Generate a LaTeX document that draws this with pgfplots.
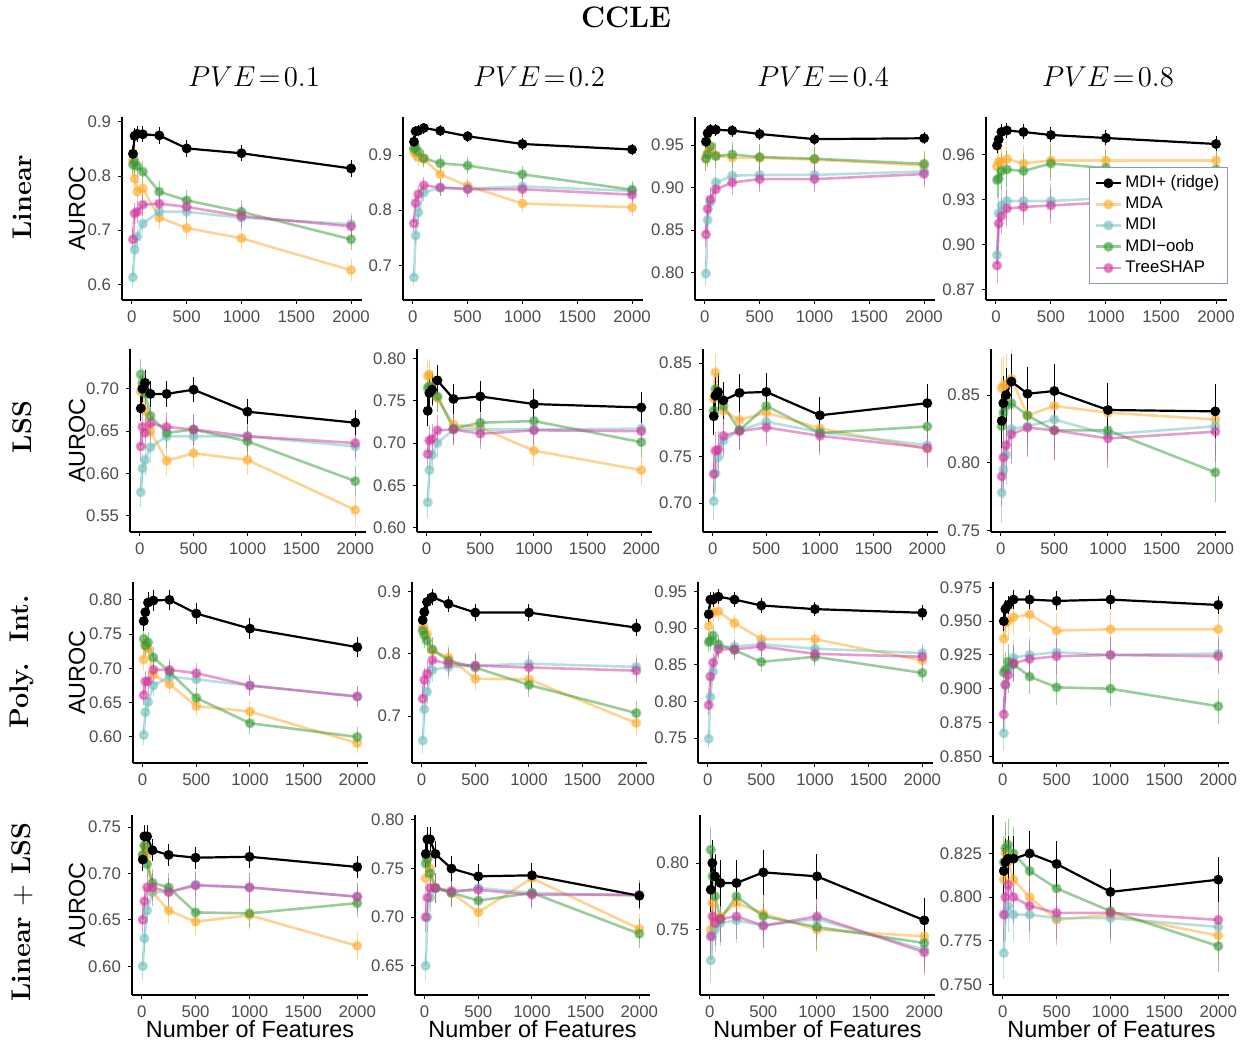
\documentclass[border=0pt]{standalone}
\usepackage{fontspec}
\setsansfont{Liberation Sans}
\usepackage{pgfplots}
\usepackage{pgfplotstable}
\pgfplotsset{compat=1.18}
\definecolor{grey30}{HTML}{4D4D4D}
\definecolor{cMDA}{RGB}{255,170,40}
\definecolor{cMDI}{RGB}{110,192,190}
\definecolor{cOOB}{RGB}{55,155,55}
\definecolor{cTS}{RGB}{210,55,160}
\definecolor{cLeg}{RGB}{140,155,175}
\newcommand\tickfont{\sffamily\fontsize{8.4}{9}\selectfont}
\newcommand\labfont{\sffamily\fontsize{11.7}{13}\selectfont}
\pgfplotsset{
 sMDA/.style={color=cMDA, line width=1.3pt, opacity=0.5, mark=*, mark size=1.9pt},
 sMDI/.style={color=cMDI, line width=1.3pt, opacity=0.5, mark=*, mark size=1.9pt},
 sOOB/.style={color=cOOB, line width=1.3pt, opacity=0.5, mark=*, mark size=1.9pt},
 sTS/.style={color=cTS, line width=1.3pt, opacity=0.5, mark=*, mark size=1.9pt},
 sMDIp/.style={color=black, line width=1.1pt, mark=*, mark size=1.9pt},
 ebar/.style={/pgfplots/error bars/y dir=both, /pgfplots/error bars/y fixed=#1,
   /pgfplots/error bars/error mark=none,
   /pgfplots/error bars/error bar style={line width=0.5pt}},
 panel/.style={scale only axis, anchor=south west,
   axis x line=bottom, axis y line=left, axis line style={-, line width=0.7pt},
   xmin=-90, xmax=2100, xtick={0,500,1000,1500,2000},
   tick align=outside, major tick length=2pt, tick style={black, line width=0.5pt},
   /pgf/number format/assume math mode=true, scaled ticks=false,
   x tick label style={/pgf/number format/1000 sep={}},
   ticklabel style={font=\tickfont, text=grey30}},
 yprec/.style={yticklabel style={/pgf/number format/fixed, /pgf/number format/fixed zerofill, /pgf/number format/precision=#1}},
}
\newcommand\allseries[3]{%
 \addplot[sMDA, ebar=#3] table[x=x,y=o]{#1};
 \addplot[sMDI, ebar=#3] table[x=x,y=c]{#1};
 \addplot[sOOB, ebar=#3] table[x=x,y=g]{#1};
 \addplot[sTS, ebar=#3] table[x=x,y=p]{#1};
 \addplot[sMDIp, ebar=#2] table[x=x,y=b]{#1};
}
% columns: x, MDI+ (b), MDA (o), MDI (c), MDI-oob (g), TreeSHAP (p)
\pgfplotstableread{
x b o c g p
10 0.841 0.829 0.613 0.821 0.683
25 0.874 0.795 0.664 0.826 0.731
50 0.878 0.771 0.688 0.818 0.734
100 0.877 0.777 0.712 0.808 0.747
250 0.875 0.723 0.734 0.771 0.749
500 0.851 0.704 0.734 0.755 0.743
1000 0.842 0.685 0.723 0.734 0.726
2000 0.814 0.626 0.711 0.683 0.707
}\tAA
\pgfplotstableread{
x b o c g p
10 0.924 0.906 0.678 0.912 0.776
25 0.943 0.902 0.754 0.914 0.813
50 0.944 0.896 0.796 0.906 0.829
100 0.949 0.893 0.832 0.894 0.845
250 0.944 0.865 0.841 0.885 0.841
500 0.934 0.844 0.839 0.881 0.838
1000 0.920 0.812 0.843 0.865 0.838
2000 0.910 0.805 0.835 0.837 0.828
}\tAB
\pgfplotstableread{
x b o c g p
10 0.954 0.935 0.799 0.934 0.845
25 0.964 0.941 0.862 0.939 0.875
50 0.968 0.947 0.883 0.949 0.886
100 0.968 0.938 0.906 0.937 0.898
250 0.967 0.935 0.914 0.939 0.906
500 0.963 0.935 0.915 0.936 0.910
1000 0.957 0.933 0.915 0.934 0.910
2000 0.958 0.926 0.919 0.928 0.916
}\tAC
\pgfplotstableread{
x b o c g p
10 0.966 0.952 0.893 0.943 0.886
25 0.970 0.955 0.921 0.944 0.914
50 0.975 0.955 0.926 0.949 0.919
100 0.976 0.957 0.929 0.950 0.924
250 0.975 0.954 0.929 0.949 0.925
500 0.973 0.956 0.929 0.954 0.926
1000 0.971 0.956 0.931 0.951 0.928
2000 0.967 0.956 0.932 0.950 0.929
}\tAD
\pgfplotstableread{
x b o c g p
10 0.677 0.697 0.578 0.717 0.632
25 0.700 0.703 0.606 0.707 0.655
50 0.707 0.674 0.616 0.695 0.648
100 0.694 0.650 0.631 0.668 0.659
250 0.694 0.615 0.644 0.648 0.655
500 0.699 0.624 0.644 0.652 0.652
1000 0.673 0.616 0.644 0.638 0.644
2000 0.660 0.557 0.632 0.591 0.636
}\tBA
\pgfplotstableread{
x b o c g p
10 0.738 0.779 0.630 0.765 0.687
25 0.759 0.781 0.668 0.767 0.703
50 0.763 0.767 0.686 0.761 0.705
100 0.774 0.753 0.700 0.755 0.715
250 0.752 0.722 0.716 0.717 0.716
500 0.755 0.718 0.716 0.724 0.711
1000 0.746 0.691 0.716 0.726 0.715
2000 0.742 0.668 0.717 0.701 0.714
}\tBB
\pgfplotstableread{
x b o c g p
10 0.793 0.812 0.702 0.799 0.731
25 0.815 0.840 0.732 0.822 0.756
50 0.819 0.819 0.749 0.815 0.757
100 0.810 0.799 0.767 0.804 0.772
250 0.818 0.789 0.778 0.778 0.777
500 0.819 0.797 0.787 0.804 0.781
1000 0.794 0.780 0.776 0.775 0.772
2000 0.807 0.758 0.762 0.782 0.759
}\tBC
\pgfplotstableread{
x b o c g p
10 0.831 0.855 0.778 0.827 0.790
25 0.844 0.857 0.795 0.837 0.804
50 0.850 0.858 0.806 0.842 0.813
100 0.860 0.862 0.825 0.844 0.821
250 0.851 0.835 0.827 0.835 0.826
500 0.853 0.842 0.832 0.824 0.824
1000 0.839 0.837 0.821 0.824 0.818
2000 0.838 0.832 0.827 0.793 0.823
}\tBD
\pgfplotstableread{
x b o c g p
10 0.769 0.713 0.603 0.743 0.661
25 0.782 0.736 0.636 0.733 0.681
50 0.796 0.729 0.651 0.738 0.681
100 0.799 0.691 0.675 0.716 0.698
250 0.800 0.677 0.688 0.695 0.698
500 0.780 0.645 0.684 0.657 0.693
1000 0.758 0.637 0.675 0.620 0.675
2000 0.731 0.591 0.659 0.600 0.659
}\tCA
\pgfplotstableread{
x b o c g p
10 0.854 0.842 0.661 0.837 0.728
25 0.867 0.840 0.711 0.830 0.758
50 0.883 0.831 0.739 0.821 0.768
100 0.891 0.805 0.774 0.807 0.790
250 0.880 0.794 0.779 0.789 0.784
500 0.866 0.760 0.781 0.778 0.781
1000 0.866 0.759 0.784 0.750 0.778
2000 0.842 0.689 0.779 0.705 0.773
}\tCB
\pgfplotstableread{
x b o c g p
10 0.919 0.903 0.749 0.881 0.795
25 0.939 0.920 0.806 0.883 0.834
50 0.939 0.921 0.841 0.890 0.853
100 0.943 0.923 0.874 0.878 0.871
250 0.939 0.907 0.875 0.870 0.871
500 0.931 0.885 0.878 0.854 0.875
1000 0.926 0.885 0.872 0.861 0.865
2000 0.921 0.856 0.866 0.839 0.861
}\tCC
\pgfplotstableread{
x b o c g p
10 0.950 0.937 0.867 0.912 0.881
25 0.959 0.949 0.903 0.914 0.903
50 0.962 0.950 0.914 0.920 0.910
100 0.966 0.953 0.923 0.918 0.919
250 0.966 0.955 0.925 0.909 0.922
500 0.965 0.943 0.927 0.901 0.924
1000 0.966 0.944 0.925 0.900 0.925
2000 0.962 0.944 0.926 0.887 0.924
}\tCD
\pgfplotstableread{
x b o c g p
10 0.715 0.720 0.600 0.720 0.650
25 0.740 0.730 0.630 0.730 0.670
50 0.740 0.720 0.660 0.710 0.685
100 0.725 0.680 0.680 0.690 0.685
250 0.720 0.660 0.680 0.685 0.680
500 0.717 0.648 0.688 0.658 0.687
1000 0.718 0.655 0.685 0.657 0.685
2000 0.707 0.622 0.675 0.668 0.675
}\tDA
\pgfplotstableread{
x b o c g p
10 0.765 0.740 0.650 0.755 0.700
25 0.780 0.760 0.700 0.760 0.720
50 0.780 0.750 0.720 0.745 0.730
100 0.765 0.730 0.730 0.730 0.730
250 0.750 0.725 0.725 0.725 0.727
500 0.742 0.705 0.730 0.717 0.728
1000 0.743 0.740 0.725 0.725 0.723
2000 0.722 0.688 0.722 0.683 0.723
}\tDB
\pgfplotstableread{
x b o c g p
10 0.780 0.750 0.727 0.810 0.745
25 0.800 0.770 0.745 0.790 0.760
50 0.790 0.755 0.750 0.775 0.755
100 0.785 0.760 0.755 0.758 0.758
250 0.785 0.770 0.757 0.775 0.760
500 0.793 0.762 0.753 0.760 0.753
1000 0.790 0.750 0.758 0.752 0.760
2000 0.757 0.745 0.735 0.740 0.733
}\tDC
\pgfplotstableread{
x b o c g p
10 0.815 0.810 0.768 0.820 0.790
25 0.820 0.825 0.790 0.828 0.800
50 0.822 0.820 0.795 0.830 0.807
100 0.822 0.810 0.790 0.825 0.800
250 0.825 0.800 0.790 0.815 0.795
500 0.819 0.787 0.788 0.805 0.791
1000 0.803 0.790 0.788 0.792 0.791
2000 0.810 0.778 0.783 0.772 0.787
}\tDD
\begin{document}
\begin{tikzpicture}
\useasboundingbox (0,0) rectangle (622.5pt,-521pt);
% titles
\node[font=\bfseries\fontsize{14.8}{16}\selectfont] at (313pt,-8.5pt) {CCLE};
\foreach \xx/\pv in {127/0.1, 269.5/0.2, 411.5/0.4, 554/0.8}
  \node[font=\fontsize{14}{16}\selectfont] at (\xx pt,-38.5pt) {$PVE\!=\!\pv$};
\node[rotate=90, font=\bfseries\fontsize{13.5}{15}\selectfont] at (11pt,-98.5pt) {Linear};
\node[rotate=90, font=\bfseries\fontsize{13.5}{15}\selectfont] at (11pt,-213.5pt) {LSS};
\node[rotate=90, font=\bfseries\fontsize{13.5}{15}\selectfont] at (11pt,-331pt) {Poly.\ \ Int.};
\node[rotate=90, font=\bfseries\fontsize{13.5}{15}\selectfont] at (11pt,-456pt) {Linear $+$ LSS};
\foreach \yy in {-104.25,-220.25,-336.25,-452.5}
  \node[rotate=90, font=\labfont] at (38.5pt,\yy pt) {AUROC};
\foreach \xx in {125,266.25,408.75,555.75}
  \node[font=\labfont] at (\xx pt,-514.5pt) {Number of Features};
% ---------------- Row 1: Linear
\begin{axis}[panel, at={(61pt,-150pt)}, width=120pt, height=91.5pt,
  ymin=0.571, ymax=0.909, ytick={0.6,0.7,0.8,0.9}, yprec=1]
\allseries{\tAA}{0.015}{0.02}
\end{axis}
\begin{axis}[panel, at={(201.5pt,-150pt)}, width=120pt, height=91.5pt,
  ymin=0.637, ymax=0.969, ytick={0.7,0.8,0.9}, yprec=1]
\allseries{\tAB}{0.01}{0.015}
\end{axis}
\begin{axis}[panel, at={(347.5pt,-150pt)}, width=120pt, height=91.5pt,
  ymin=0.768, ymax=0.983, ytick={0.80,0.85,0.90,0.95}, yprec=2]
\allseries{\tAC}{0.007}{0.015}
\end{axis}
\begin{axis}[panel, at={(493pt,-150pt)}, width=120.5pt, height=91.5pt,
  ymin=0.863, ymax=0.985, ytick={0.87,0.90,0.93,0.96}, yprec=2,
  legend cell align=left,
  legend image code/.code={\draw[mark repeat=2,mark phase=2,#1] plot coordinates {(0cm,0cm) (0.22cm,0cm) (0.44cm,0cm)};},
  legend style={at={(rel axis cs:1.004,0.727)}, anchor=north east, font=\tickfont,
    draw=cLeg, line width=0.5pt, fill=white, inner sep=2.5pt, row sep=0pt, text=black,
    nodes={inner sep=1.6pt}}]
\addlegendimage{sMDIp}\addlegendentry{MDI+ (ridge)}
\addlegendimage{sMDA}\addlegendentry{MDA}
\addlegendimage{sMDI}\addlegendentry{MDI}
\addlegendimage{sOOB}\addlegendentry{MDI\textminus oob}
\addlegendimage{sTS}\addlegendentry{TreeSHAP}
\allseries{\tAD}{0.005}{0.012}
\end{axis}
% ---------------- Row 2: LSS
\begin{axis}[panel, at={(65pt,-266pt)}, width=118pt, height=91.5pt,
  ymin=0.531, ymax=0.747, ytick={0.55,0.60,0.65,0.70}, yprec=2]
\allseries{\tBA}{0.015}{0.018}
\end{axis}
\begin{axis}[panel, at={(208.5pt,-266pt)}, width=117.5pt, height=91.5pt,
  ymin=0.595, ymax=0.811, ytick={0.60,0.65,0.70,0.75,0.80}, yprec=2]
\allseries{\tBB}{0.018}{0.018}
\end{axis}
\begin{axis}[panel, at={(351.5pt,-266pt)}, width=117.5pt, height=91.5pt,
  ymin=0.669, ymax=0.865, ytick={0.70,0.75,0.80,0.85}, yprec=2]
\allseries{\tBC}{0.02}{0.02}
\end{axis}
\begin{axis}[panel, at={(495.5pt,-266pt)}, width=117.5pt, height=91.5pt,
  ymin=0.749, ymax=0.884, ytick={0.75,0.80,0.85}, yprec=2]
\allseries{\tBD}{0.02}{0.022}
\end{axis}
% ---------------- Row 3: Poly. Int.
\begin{axis}[panel, at={(66.5pt,-381.5pt)}, width=117.5pt, height=90.5pt,
  ymin=0.562, ymax=0.826, ytick={0.60,0.65,0.70,0.75,0.80}, yprec=2]
\allseries{\tCA}{0.015}{0.015}
\end{axis}
\begin{axis}[panel, at={(206pt,-381.5pt)}, width=117.5pt, height=90.5pt,
  ymin=0.625, ymax=0.915, ytick={0.7,0.8,0.9}, yprec=1]
\allseries{\tCB}{0.013}{0.02}
\end{axis}
\begin{axis}[panel, at={(349pt,-381.5pt)}, width=117.5pt, height=90.5pt,
  ymin=0.716, ymax=0.963, ytick={0.75,0.80,0.85,0.90,0.95}, yprec=2]
\allseries{\tCC}{0.01}{0.013}
\end{axis}
\begin{axis}[panel, at={(496.5pt,-381.5pt)}, width=118pt, height=90.5pt,
  ymin=0.845, ymax=0.979, ytick={0.850,0.875,0.900,0.925,0.950,0.975}, yprec=3]
\allseries{\tCD}{0.007}{0.013}
\end{axis}
% ---------------- Row 4: Linear + LSS
\begin{axis}[panel, at={(66pt,-497.5pt)}, width=118pt, height=90pt,
  ymin=0.569, ymax=0.763, ytick={0.60,0.65,0.70,0.75}, yprec=2]
\allseries{\tDA}{0.012}{0.015}
\end{axis}
\begin{axis}[panel, at={(207.5pt,-497.5pt)}, width=117.5pt, height=90pt,
  ymin=0.62, ymax=0.805, ytick={0.65,0.70,0.75,0.80}, yprec=2]
\allseries{\tDB}{0.013}{0.015}
\end{axis}
\begin{axis}[panel, at={(350pt,-497.5pt)}, width=117.5pt, height=90pt,
  ymin=0.701, ymax=0.836, ytick={0.75,0.80}, yprec=2]
\allseries{\tDC}{0.017}{0.017}
\end{axis}
\begin{axis}[panel, at={(496.5pt,-497.5pt)}, width=118pt, height=90pt,
  ymin=0.744, ymax=0.847, ytick={0.750,0.775,0.800,0.825}, yprec=3]
\allseries{\tDD}{0.013}{0.015}
\end{axis}
\end{tikzpicture}
\end{document}
